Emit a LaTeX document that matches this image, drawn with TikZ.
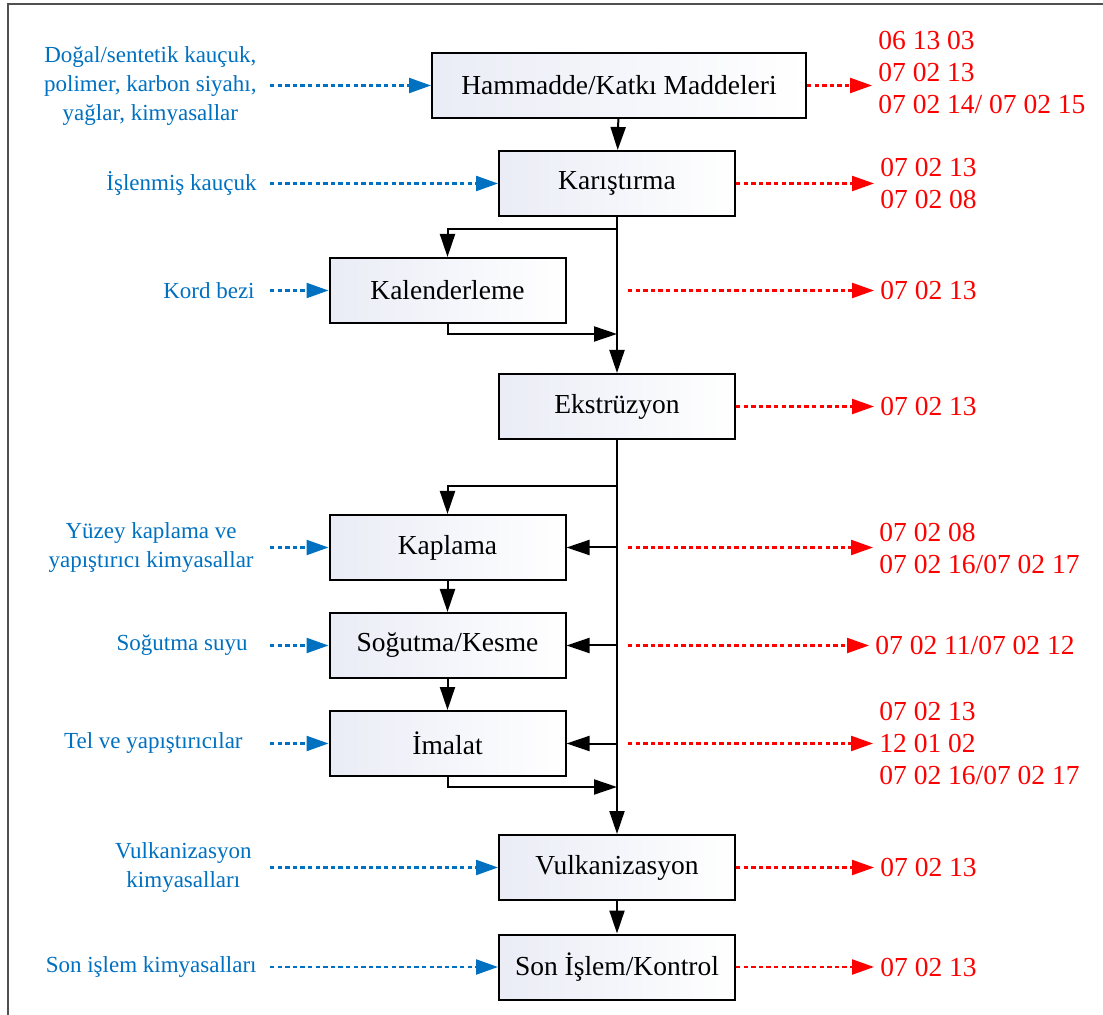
\documentclass[tikz,border=0pt]{standalone}
\usepackage{fontspec}
\setmainfont{Liberation Serif}
\usetikzlibrary{arrows.meta,positioning,calc}
\definecolor{inblue}{RGB}{0,112,192}
\definecolor{outred}{RGB}{255,0,0}
\definecolor{boxshade}{RGB}{234,236,246}
\definecolor{framegray}{RGB}{80,80,80}
\tikzset{
  fc/box/.style={draw, line width=1pt, left color=boxshade, right color=white, minimum width=118pt, minimum height=32.5pt, align=center, font=\fontsize{13.75}{16}\selectfont},
  fc/flow/.style={line width=1pt, -{Triangle[length=11.5pt, width=7.5pt]}},
  fc/in/.style={inblue, line width=1.15pt, dash pattern=on 2.2pt off 1.6pt, -{Triangle[length=11pt, width=7.5pt]}},
  fc/out/.style={outred, line width=1.15pt, dash pattern=on 2.2pt off 1.6pt, -{Triangle[length=11pt, width=7.5pt]}},
  fc/inlabel/.style={anchor=east, text=inblue, inner sep=2pt, align=center, font=\fontsize{11.5}{14.5}\selectfont},
  fc/outlabel/.style={anchor=west, text=outred, inner sep=3pt, align=left, font=\fontsize{13.75}{16}\selectfont}
}

\begin{document}
\begin{tikzpicture}[x=0.5pt, y=-0.5pt]
  \useasboundingbox (0,0) rectangle (1103,1015);
  \draw[framegray, line width=0.8pt] (8,1015) -- (8,4) -- (1103,4);

  % process steps
  \node[fc/box, minimum width=187pt] (ham) at (619,85.5) {Hammadde/Katkı Maddeleri};
  \node[fc/box] (karis) at (617,183.5) {Karıştırma};
  \node[fc/box] (kal) at (447.5,290.5) {Kalenderleme};
  \node[fc/box] (ekst) at (617,406.5) {Ekstrüzyon};
  \node[fc/box] (kap) at (447.5,547.5) {Kaplama};
  \node[fc/box] (sog) at (447.5,645.5) {Soğutma/Kesme};
  \node[fc/box] (ima) at (447.5,743.5) {İmalat};
  \node[fc/box] (vulk) at (617,867.5) {Vulkanizasyon};
  \node[fc/box] (son) at (617,967) {Son İşlem/Kontrol};

  % flow
  \coordinate (br1) at (617,229);
  \coordinate (join1) at (617,334);
  \coordinate (br2) at (617,486);
  \coordinate (join2) at (617,787);
  \draw[fc/flow] (ham) -- (karis);
  \draw[fc/flow] (karis) -- (ekst);
  \draw[fc/flow] (br1) -| (kal);
  \draw[fc/flow] (kal.south) |- (join1);
  \draw[fc/flow] (ekst) -- (vulk);
  \draw[fc/flow] (br2) -| (kap);
  \draw[fc/flow] (kap -| br2) -- (kap);
  \draw[fc/flow] (sog -| br2) -- (sog);
  \draw[fc/flow] (ima -| br2) -- (ima);
  \draw[fc/flow] (kap) -- (sog);
  \draw[fc/flow] (sog) -- (ima);
  \draw[fc/flow] (ima.south) |- (join2);
  \draw[fc/flow] (vulk) -- (son);

  % inputs
  \coordinate (inx) at (270,0);
  \node[fc/inlabel] (rawin) at (261,86) {Doğal/sentetik kauçuk,\\polimer, karbon siyahı,\\yağlar, kimyasallar};
  \node[fc/inlabel] (islin) at (261,183.5) {İşlenmiş kauçuk};
  \node[fc/inlabel] (kordin) at (259,290.5) {Kord bezi};
  \node[fc/inlabel] (yuzin) at (258,547.5) {Yüzey kaplama ve\\yapıştırıcı kimyasallar};
  \node[fc/inlabel] (suyin) at (252,645.5) {Soğutma suyu};
  \node[fc/inlabel] (telin) at (247,743.5) {Tel ve yapıştırıcılar};
  \node[fc/inlabel] (vulkin) at (256,867.5) {Vulkanizasyon\\kimyasalları};
  \node[fc/inlabel] (sonin) at (261,967) {Son işlem kimyasalları};
  \draw[fc/in] (ham -| inx) -- (ham);
  \draw[fc/in] (karis -| inx) -- (karis);
  \draw[fc/in] (kal -| inx) -- (kal);
  \draw[fc/in] (kap -| inx) -- (kap);
  \draw[fc/in] (sog -| inx) -- (sog);
  \draw[fc/in] (ima -| inx) -- (ima);
  \draw[fc/in] (vulk -| inx) -- (vulk);
  \draw[fc/in] (son -| inx) -- (son);

  % waste codes
  \coordinate (outx) at (628,0);
  \node[fc/outlabel] (hamout) at (872,72) {06 13 03\\07 02 13\\07 02 14/ 07 02 15};
  \node[fc/outlabel] (karisout) at (874,183) {07 02 13\\07 02 08};
  \node[fc/outlabel] (kalout) at (874,290.5) {07 02 13};
  \node[fc/outlabel] (ekstout) at (874,406.5) {07 02 13};
  \node[fc/outlabel] (kapout) at (873,548) {07 02 08\\07 02 16/07 02 17};
  \node[fc/outlabel] (sogout) at (869,645.5) {07 02 11/07 02 12};
  \node[fc/outlabel] (imaout) at (873,743) {07 02 13\\12 01 02\\07 02 16/07 02 17};
  \node[fc/outlabel] (vulkout) at (874,867.5) {07 02 13};
  \node[fc/outlabel] (sonout) at (874,967) {07 02 13};
  \draw[fc/out] (ham) -- (ham -| hamout.west);
  \draw[fc/out] (karis) -- (karis -| karisout.west);
  \draw[fc/out] (kal -| outx) -- (kalout);
  \draw[fc/out] (ekst) -- (ekstout);
  \draw[fc/out] (kap -| outx) -- (kap -| kapout.west);
  \draw[fc/out] (sog -| outx) -- (sogout);
  \draw[fc/out] (ima -| outx) -- (ima -| imaout.west);
  \draw[fc/out] (vulk) -- (vulkout);
  \draw[fc/out] (son) -- (sonout);
\end{tikzpicture}
\end{document}
